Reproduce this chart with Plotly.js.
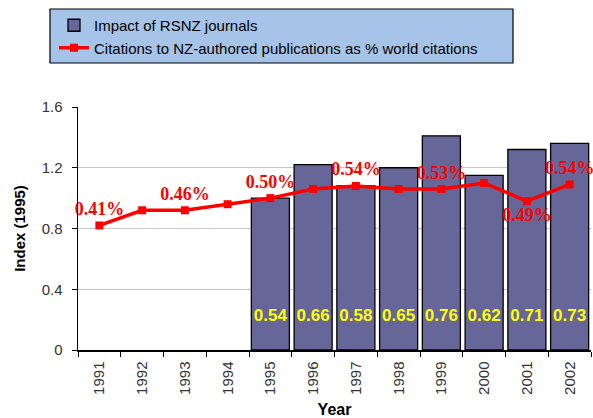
<!DOCTYPE html>
<html>
<head>
<meta charset="utf-8">
<script src="https://cdn.plot.ly/plotly-3.0.1.min.js"></script>
<style>html,body{margin:0;padding:0;background:#fff;}#chart{width:593px;height:418px;}</style>
</head>
<body>
<div id="chart"></div>
<script>
// Data
var years = ['1991','1992','1993','1994','1995','1996','1997','1998','1999','2000','2001','2002'];
var impactIndex = [null,null,null,null,1.00,1.22,1.08,1.20,1.41,1.15,1.32,1.36];
var impactLabels = ['','','','','0.54','0.66','0.58','0.65','0.76','0.62','0.71','0.73'];
var citationIndex = [0.82,0.92,0.92,0.96,1.00,1.06,1.08,1.06,1.06,1.10,0.98,1.09];
var citationLabels = ['0.41%','','0.46%','','0.50%','','0.54%','','0.53%','','0.49%','0.54%'];
var citationLabelPos = ['top center','top center','top center','top center','top center','top center','top center','top center','top center','top center','bottom center','top center'];
var yTicks = [0,0.4,0.8,1.2,1.6];
var yTickText = ['0','0.4','0.8','1.2','1.6'];

var barLabelY = 0.22;

var traces = [
  {
    type:'bar', x:years, y:impactIndex, name:'Impact of RSNZ journals',
    marker:{color:'#666699', line:{color:'#000', width:1.3}},
    legendgroup:'a', hoverinfo:'none'
  },
  {
    type:'scatter', mode:'text', x:years.slice(4), y:impactLabels.slice(4).map(function(){return barLabelY;}),
    text:impactLabels.slice(4), textposition:'middle center',
    textfont:{family:'Liberation Sans, Arial', size:17, color:'#ffff00', weight:'bold'},
    showlegend:false, hoverinfo:'none'
  },
  {
    type:'scatter', mode:'lines+markers+text', x:years, y:citationIndex,
    name:'Citations to NZ-authored publications as % world citations',
    line:{color:'#ff0000', width:3.5},
    marker:{color:'#ff0000', symbol:'square', size:8},
    text:citationLabels, textposition:citationLabelPos,
    textfont:{family:'Liberation Serif, Times New Roman', size:18, color:'#ff0000', weight:'bold'},
    legendgroup:'b', hoverinfo:'none', cliponaxis:false
  }
];

var W = 593, H = 418;
var x0 = 78, x1 = 591, yTop = 107, yBot = 350;
function px2x(p){ return (p - x0)/(x1 - x0); }
function py2y(p){ return (yBot - p)/(yBot - yTop); }

var layout = {
  width:W, height:H,
  margin:{l:x0, r:W-x1, t:yTop, b:H-yBot, autoexpand:false},
  paper_bgcolor:'#fff', plot_bgcolor:'#fff',
  font:{family:'Liberation Sans, Arial', size:14, color:'#222'},
  bargap:0.11,
  showlegend:true,
  legend:{
    x:px2x(54), y:py2y(9), xanchor:'left', yanchor:'top',
    bgcolor:'rgba(0,0,0,0)', borderwidth:0,
    font:{family:'Liberation Sans, Arial', size:15, color:'#000'},
    tracegroupgap:8, traceorder:'normal'
  },
  shapes:[{
    type:'rect', xref:'paper', yref:'paper',
    x0:px2x(50), x1:px2x(513), y0:py2y(63), y1:py2y(9),
    fillcolor:'#a6c4e8', line:{color:'#000', width:1.2}, layer:'below'
  }],
  xaxis:{
    type:'category', categoryorder:'array', categoryarray:years,
    range:[-0.5, years.length - 0.5],
    tickangle:-90, tickson:'boundaries', ticks:'outside', ticklen:5, tickcolor:'#000',
    showline:true, linecolor:'#000', linewidth:1.5, showgrid:false,
    tickfont:{size:15, color:'#333'}, ticklabelstandoff:4,
    title:{text:'Year', font:{size:16, weight:'bold', color:'#000'}, standoff:10},
    automargin:false
  },
  yaxis:{
    range:[0,1.6], tickvals:yTicks, ticktext:yTickText,
    ticks:'outside', ticklen:5, tickcolor:'#000',
    showline:true, linecolor:'#000', linewidth:1.5,
    showgrid:true, gridcolor:'#c8c8c8', gridwidth:1, zeroline:false,
    tickfont:{size:15, color:'#333'}, ticklabelstandoff:6,
    title:{text:'Index (1995)', font:{size:15, weight:'bold', color:'#000'}, standoff:12},
    automargin:false
  }
};

Plotly.newPlot('chart', traces, layout, {displayModeBar:false, staticPlot:true});
</script>
</body>
</html>
